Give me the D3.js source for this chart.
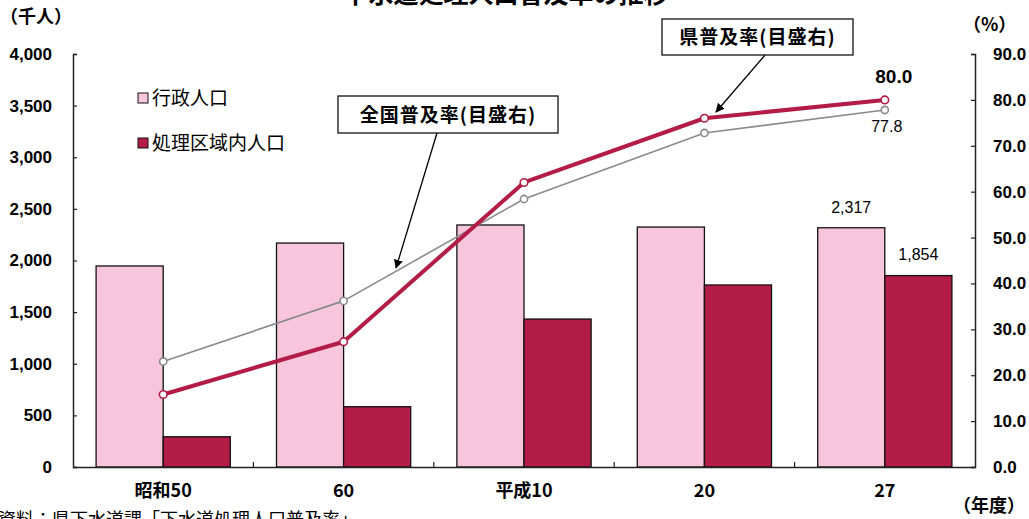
<!DOCTYPE html>
<html><head><meta charset="utf-8">
<script src="https://cdn.jsdelivr.net/npm/d3@7"></script>
<style>
html,body{margin:0;padding:0;background:#fff;overflow:hidden}
text{font-family:"Liberation Sans","Noto Sans CJK JP",Arial,sans-serif}
.cjk{font-family:"Noto Sans CJK JP","Liberation Sans",sans-serif}
</style></head>
<body>
<svg id="c" width="1029" height="519"></svg>
<script>
const title = "下水道処理人口普及率の推移";
const categories = ["昭和50", "60", "平成10", "20", "27"];
const seriesBars = ["行政人口", "処理区域内人口"];
const adminPop = [1947, 2169, 2344, 2324, 2317];
const servedPop = [293, 584, 1433, 1763, 1854];
const prefRate = [15.8, 27.3, 62.0, 76.0, 80.0];
const natRate = [23.0, 36.2, 58.4, 72.8, 77.8];
const leftTicks = [0, 500, 1000, 1500, 2000, 2500, 3000, 3500, 4000];
const rightTicks = [0, 10, 20, 30, 40, 50, 60, 70, 80, 90];

const svg = d3.select("#c");
const L = 73, R = 975, T = 54, B = 467;
const pink = "#f8c6dc", crimson = "#b21c46", gray = "#8a8a8a";

const x = d3.scaleBand().domain(categories).range([L, R]).padding(0);
const bw = x.bandwidth();
const x1 = d3.scaleBand().domain(seriesBars).range([bw * 0.128, bw * 0.872]).padding(0);
const yL = d3.scaleLinear().domain([0, 4000]).range([B, T]);
const yR = d3.scaleLinear().domain([0, 90]).range([B, T]);

// title (clipped at top)
svg.append("text").attr("class","cjk").attr("x", 506).attr("y", 3).attr("text-anchor","middle")
  .attr("font-size", 25).attr("font-weight","bold").text(title);

// bars
const barData = [adminPop, servedPop];
const colors = [pink, crimson];
seriesBars.forEach((s, si) => {
  svg.append("g").selectAll("rect").data(categories).join("rect")
    .attr("x", d => x(d) + x1(s))
    .attr("y", (d, i) => yL(barData[si][i]))
    .attr("width", x1.bandwidth())
    .attr("height", (d, i) => B - yL(barData[si][i]))
    .attr("fill", colors[si]).attr("stroke", "#111").attr("stroke-width", 1.3);
});

// axes
const axL = svg.append("g").attr("transform", `translate(${L},0)`)
  .call(d3.axisLeft(yL).tickValues(leftTicks).tickSize(-4).tickFormat(d3.format(",")));
axL.selectAll("text").attr("x", -21).attr("font-size", 17).attr("font-weight","bold").attr("fill","#000");
const axR = svg.append("g").attr("transform", `translate(${R},0)`)
  .call(d3.axisRight(yR).tickValues(rightTicks).tickSize(-4).tickFormat(d3.format(".1f")));
axR.selectAll("text").attr("x", 18).attr("font-size", 17).attr("font-weight","bold").attr("fill","#000");
const axB = svg.append("g").attr("transform", `translate(0,${B})`)
  .call(d3.axisBottom(x).tickSize(0).tickPadding(17));
axB.selectAll("text").attr("class","cjk").attr("font-size", 18).attr("font-weight","bold").attr("fill","#000");
// boundary ticks
svg.append("g").selectAll("line").data(categories.slice(1)).join("line")
  .attr("x1", d => x(d)).attr("x2", d => x(d)).attr("y1", B).attr("y2", B - 5)
  .attr("stroke", "#222").attr("stroke-width", 1.2);
svg.selectAll(".domain").attr("stroke","#222").attr("stroke-width",1.5);
svg.selectAll(".tick line").attr("stroke","#222").attr("stroke-width",1.2);

// lines
const cx = d => x(d) + bw / 2;
function drawLine(vals, color, w, r) {
  const line = d3.line().x((d, i) => cx(categories[i])).y(d => yR(d));
  svg.append("path").datum(vals).attr("d", line).attr("fill","none")
    .attr("stroke", color).attr("stroke-width", w).attr("stroke-linejoin","round");
  svg.append("g").selectAll("circle").data(vals).join("circle")
    .attr("cx", (d, i) => cx(categories[i])).attr("cy", d => yR(d)).attr("r", r)
    .attr("fill","#fff").attr("stroke", color).attr("stroke-width", 1.6);
}
drawLine(natRate, gray, 1.6, 3.6);
drawLine(prefRate, crimson, 4, 3.8);

// value labels
const last = categories.length - 1;
svg.append("text").attr("x", cx(categories[last]) + 9).attr("y", yR(prefRate[last]) - 17)
  .attr("text-anchor","middle").attr("font-size", 19).attr("font-weight","bold").text(prefRate[last].toFixed(1));
svg.append("text").attr("x", cx(categories[last]) + 2).attr("y", yR(natRate[last]) + 22)
  .attr("text-anchor","middle").attr("font-size", 16).text(natRate[last].toFixed(1));
svg.append("text").attr("x", x(categories[last]) + x1(seriesBars[0]) + x1.bandwidth()/2)
  .attr("y", yL(adminPop[last]) - 15).attr("text-anchor","middle").attr("font-size", 16)
  .text(d3.format(",")(adminPop[last]));
svg.append("text").attr("x", x(categories[last]) + x1(seriesBars[1]) + x1.bandwidth()/2)
  .attr("y", yL(servedPop[last]) - 16).attr("text-anchor","middle").attr("font-size", 16)
  .text(d3.format(",")(servedPop[last]));

// unit labels
svg.append("text").attr("class","cjk").attr("x", 0).attr("y", 23).attr("font-size", 18).attr("font-weight","bold").text("（千人）");
svg.append("text").attr("class","cjk").attr("x", 963).attr("y", 31).attr("font-size", 18).attr("font-weight","bold").text("（%）");
svg.append("text").attr("class","cjk").attr("x", 953).attr("y", 512).attr("font-size", 18).attr("font-weight","bold").text("（年度）");

// legend
[[pink, 98], [crimson, 143]].forEach((c, i) => {
  svg.append("rect").attr("x", 138).attr("y", c[1] - 5).attr("width", 10).attr("height", 10)
    .attr("fill", c[0]).attr("stroke","#111").attr("stroke-width",1);
  svg.append("text").attr("class","cjk").attr("x", 152).attr("y", c[1] + 7).attr("font-size", 19).text(seriesBars[i]);
});

// callouts
svg.append("defs").append("marker").attr("id","ah").attr("viewBox","0 0 10 10").attr("refX",9).attr("refY",5)
  .attr("markerWidth",7).attr("markerHeight",7).attr("orient","auto")
  .append("path").attr("d","M0,0L10,5L0,10z").attr("fill","#000");
function callout(x0, y0, w, h, label, ax1, ay1, ax2, ay2) {
  svg.append("line").attr("x1", ax1).attr("y1", ay1).attr("x2", ax2).attr("y2", ay2)
    .attr("stroke","#000").attr("stroke-width",1.3).attr("marker-end","url(#ah)");
  svg.append("rect").attr("x", x0).attr("y", y0).attr("width", w).attr("height", h)
    .attr("fill","#fff").attr("stroke","#111").attr("stroke-width",1.3);
  svg.append("text").attr("class","cjk").attr("x", x0 + w/2).attr("y", y0 + h/2 + 7)
    .attr("text-anchor","middle").attr("font-size", 19).attr("letter-spacing", 1)
    .attr("font-weight","bold").text(label);
}
callout(338, 96, 220, 37, "全国普及率(目盛右)", 437, 133, 396, 268);
callout(662, 19, 191, 36, "県普及率(目盛右)", 765, 55, 716, 112);

// source
svg.append("text").attr("class","cjk").attr("x", -2).attr("y", 526).attr("font-size", 18).text("資料：県下水道課「下水道処理人口普及率」");
</script>
</body></html>
